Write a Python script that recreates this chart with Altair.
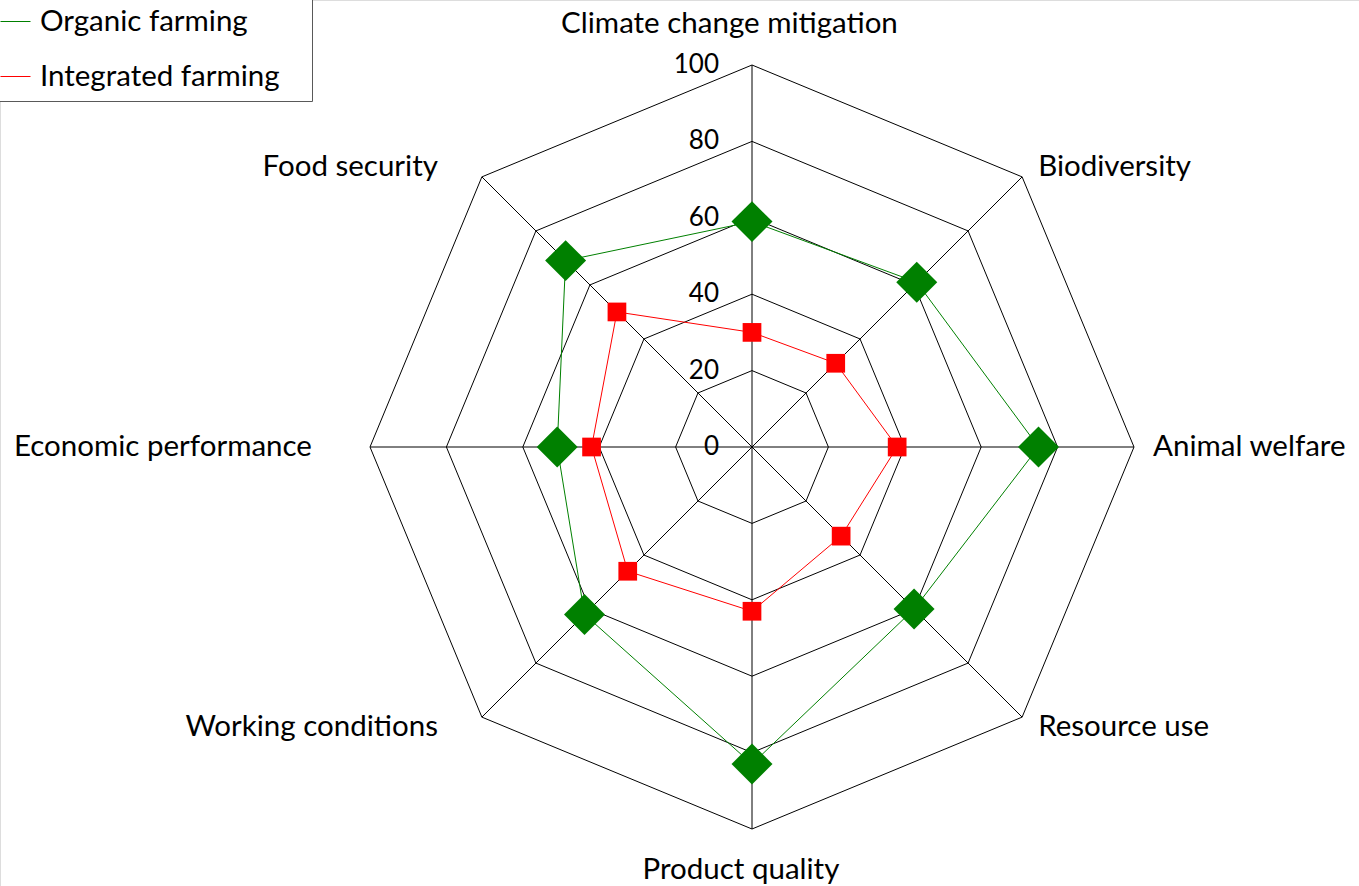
import altair as alt
import pandas as pd

# ---- data -------------------------------------------------------------
categories = [
    "Climate change mitigation",
    "Biodiversity",
    "Animal welfare",
    "Resource use",
    "Product quality",
    "Working conditions",
    "Economic performance",
    "Food security",
]
organic = [59, 61, 75, 60, 83, 62, 51, 69]
integrated = [30, 31, 38, 33, 43, 46, 42, 50]
series_names = ["Organic farming", "Integrated farming"]
ring_levels = [0, 20, 40, 60, 80, 100]

# ---- layout ------------------------------------------------------------
W, H = 1359, 886
CX, CY, R = 752, 447, 382          # centre of the web and pixel radius of 100
PPU = R / 100.0                     # pixels per value unit
FONT = "Lato"
FS = 29.5                           # axis names and legend
FS_TICK = 26                        # ring values

n = len(categories)
ANGLE = f"PI / 2 - datum.idx * 2 * PI / {n}"

# series table; the first axis is repeated at the end to close each polygon
rows = []
for name, values in zip(series_names, [organic, integrated]):
    for i in range(n + 1):
        rows.append({"series": name, "idx": i, "category": categories[i % n],
                     "value": values[i % n]})
series_df = pd.DataFrame(rows)
points_df = series_df[series_df["idx"] < n]

ring_df = pd.DataFrame([{"level": lv, "idx": i} for lv in ring_levels for i in range(n + 1)])
axis_df = pd.DataFrame({"category": categories, "idx": list(range(n))})
tick_df = pd.DataFrame({"level": ring_levels})

xs = alt.Scale(domain=[-CX / PPU, (W - CX) / PPU], nice=False, zero=False)
ys = alt.Scale(domain=[-(H - CY) / PPU, CY / PPU], nice=False, zero=False)


def X(field):
    return alt.X(f"{field}:Q", scale=xs, axis=None)


def Y(field):
    return alt.Y(f"{field}:Q", scale=ys, axis=None)


# concentric octagons
rings = (
    alt.Chart(ring_df)
    .transform_calculate(ang=ANGLE)
    .transform_calculate(px="datum.level * cos(datum.ang)", py="datum.level * sin(datum.ang)")
    .mark_line(color="black", strokeWidth=1)
    .encode(x=X("px"), y=Y("py"), detail="level:N", order="idx:Q")
)

# spokes from the centre to 100
spokes = (
    alt.Chart(axis_df)
    .transform_calculate(ang=ANGLE)
    .transform_calculate(px="100 * cos(datum.ang)", py="100 * sin(datum.ang)", o="0")
    .mark_rule(color="black", strokeWidth=1)
    .encode(x=X("o"), y=Y("o"), x2="px:Q", y2="py:Q")
)

# value labels along the vertical axis
ticks = (
    alt.Chart(tick_df)
    .transform_calculate(o="0")
    .mark_text(align="right", baseline="middle", dx=-33, font=FONT, fontSize=FS_TICK, color="black")
    .encode(x=X("o"), y=Y("level"), text="level:Q")
)

# axis names, placed just outside the 100 ring
cat_base = alt.Chart(axis_df).transform_calculate(ang=ANGLE).transform_calculate(
    c="cos(datum.ang)", s="sin(datum.ang)"
)
SIDE_Y = "100 * datum.s + 2.5 * (datum.s > 0.1 ? 1 : datum.s < -0.1 ? -1 : 0)"
cat_right = (
    cat_base.transform_filter("datum.c > 0.1")
    .transform_calculate(lx="100 * datum.c + (datum.c > 0.9 ? 5 : 4.2)", ly=SIDE_Y)
    .mark_text(align="left", baseline="middle", font=FONT, fontSize=FS, color="black")
    .encode(x=X("lx"), y=Y("ly"), text="category:N")
)
cat_left = (
    cat_base.transform_filter("datum.c < -0.1")
    .transform_calculate(lx="100 * datum.c - (datum.c < -0.9 ? 15.2 : 11.5)", ly=SIDE_Y)
    .mark_text(align="right", baseline="middle", font=FONT, fontSize=FS, color="black")
    .encode(x=X("lx"), y=Y("ly"), text="category:N")
)
cat_mid = (
    cat_base.transform_filter("abs(datum.c) <= 0.1")
    .transform_calculate(lx="datum.s > 0 ? -5.9 : -2.9", ly="datum.s > 0 ? 110.8 : -110.7")
    .mark_text(align="center", baseline="middle", font=FONT, fontSize=FS, color="black")
    .encode(x=X("lx"), y=Y("ly"), text="category:N")
)

palette = ["#008000", "#FF0000"]

lines = (
    alt.Chart(series_df)
    .transform_calculate(ang=ANGLE)
    .transform_calculate(px="datum.value * cos(datum.ang)", py="datum.value * sin(datum.ang)")
    .mark_line(strokeWidth=1)
    .encode(
        x=X("px"),
        y=Y("py"),
        order="idx:Q",
        color=alt.Color(
            "series:N",
            scale=alt.Scale(domain=series_names, range=palette),
            legend=alt.Legend(
                title=None,
                orient="none",
                legendX=-10,
                legendY=-4,
                symbolType="stroke",
                symbolSize=900,
                symbolStrokeWidth=1,
                labelFont=FONT,
                labelFontSize=FS,
                labelColor="black",
                labelLimit=500,
                labelOffset=9,
                rowPadding=25,
                padding=10,
                strokeColor="#595959",
                fillColor="white",
                # a blank braille cell keeps some room after the longest label
                labelExpr="datum.label + '\u2800'",
            ),
        ),
    )
)


def marker_layer(name, shape, size, color):
    return (
        alt.Chart(points_df)
        .transform_filter(alt.datum.series == name)
        .transform_calculate(ang=ANGLE)
        .transform_calculate(px="datum.value * cos(datum.ang)", py="datum.value * sin(datum.ang)")
        .mark_point(filled=True, opacity=1, strokeWidth=0, shape=shape, size=size, fill=color)
        .encode(x=X("px"), y=Y("py"))
    )


organic_pts = marker_layer(series_names[0], "diamond", 1680, palette[0])
integrated_pts = marker_layer(series_names[1], "square", 350, palette[1])

chart = (
    alt.layer(rings, spokes, ticks, cat_right, cat_left, cat_mid, lines, organic_pts, integrated_pts)
    .properties(width=W, height=H, autosize=alt.AutoSizeParams(type="none"), padding=0)
    .configure_view(stroke=None)
    .configure(background="white")
)

chart.save("out.html", embed_options={"renderer": "svg", "actions": False})
